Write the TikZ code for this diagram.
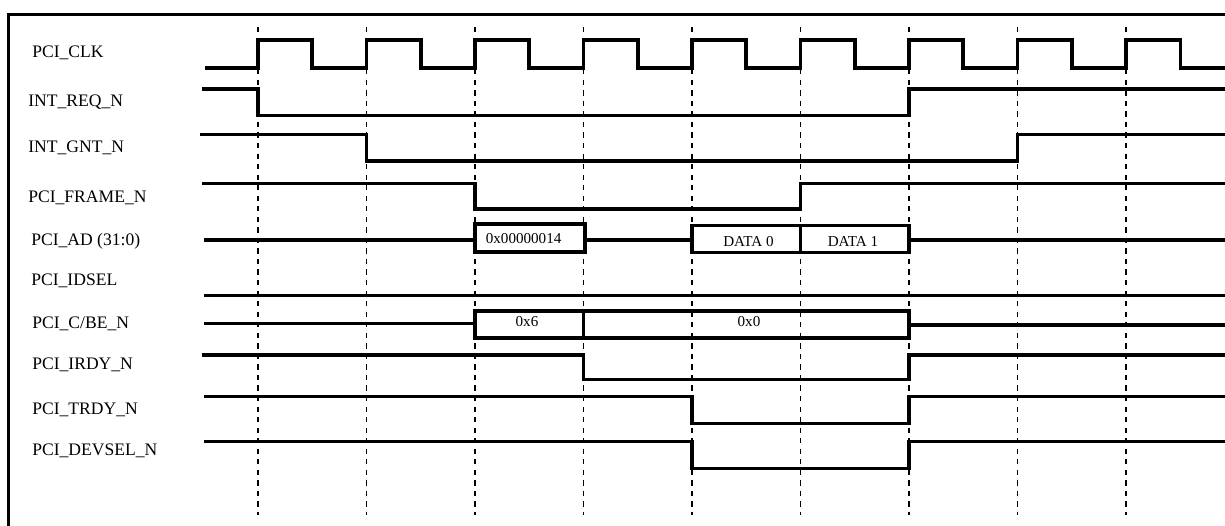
\documentclass[tikz,border=0pt]{standalone}
\usepackage{fontspec}
\setmainfont{Liberation Serif}
\usetikzlibrary{calc}

\tikzset{
  sig/.style={line width=2pt},
  clkgrid/.style={line width=0.75pt, dash pattern=on 3pt off 3pt},
  signame/.style={font=\fontsize{10}{12}\selectfont, anchor=base west, inner sep=0pt},
  busval/.style={font=\fontsize{8.6}{10}\selectfont, anchor=base, inner sep=0pt},
}

\begin{document}
\begin{tikzpicture}[x=0.02cm, y=-0.02cm]
  \clip (0,0) rectangle (1225,525);

  % frame
  \draw[line width=1.5pt] (8.5,540) -- (8.5,14.5) -- (1240,14.5);

  % clock edges
  \foreach \x in {258,366.5,475,583.5,692,800.5,909,1017.5,1126}
    \draw[clkgrid] (\x,27) -- (\x,515);

  % signal names
  \foreach \x/\y/\n/\t in {
      32/57.5/lclk/{PCI\_CLK},
      28/106/lreq/{INT\_REQ\_N},
      28/152.5/lgnt/{INT\_GNT\_N},
      28/202.5/lframe/{PCI\_FRAME\_N},
      31/245/lad/{PCI\_AD (31:0)},
      31/285.5/lidsel/{PCI\_IDSEL},
      32/328.5/lcbe/{PCI\_C/BE\_N},
      32/369.5/lirdy/{PCI\_IRDY\_N},
      32/414.5/ltrdy/{PCI\_TRDY\_N},
      32/455.5/ldevsel/{PCI\_DEVSEL\_N}
    }
    \node[signame] (\n) at (\x,\y) {\t};

  % PCI_CLK
  \draw[sig] (205,68)
    foreach \k in {0,...,8} {
      -- ({258+108.5*\k},68) -- ({258+108.5*\k},40)
      -- ({312.25+108.5*\k},40) -- ({312.25+108.5*\k},68)
    } -- (1240,68);

  % INT_REQ_N, INT_GNT_N, PCI_FRAME_N
  \draw[sig] (202,89) -- (258,89) |- (909,115.7) |- (1240,89);
  \draw[sig] (200,134.5) -- (366.5,134.5) |- (1017.5,161) |- (1240,134.5);
  \draw[sig] (202,183.3) -- (475,183.3) |- (800.5,209) |- (1240,183.3);

  % PCI_AD (31:0)
  \draw[sig] (204,240) -- (475,240);
  \draw[sig] (475,224) rectangle (585,252);
  \draw[sig] (585,240) -- (692,240);
  \draw[sig] (692,225.5) rectangle (800.5,252.5);
  \draw[sig] (800.5,225.5) rectangle (909,252.5);
  \draw[sig] (909,240) -- (1240,240);
  \node[busval, anchor=base west] (adaddr) at (485.5,243.3) {0x00000014};
  \node[busval] (addata0) at (748.5,246) {DATA 0};
  \node[busval] (addata1) at (853,246) {DATA 1};

  % PCI_IDSEL
  \draw[sig] (204,295.7) -- (1240,295.7);

  % PCI_C/BE_N
  \draw[sig] (204,323.5) -- (475,323.5);
  \draw[sig] (475,311) rectangle (583.5,338);
  \draw[sig] (583.5,311) rectangle (909,338);
  \draw[sig] (909,325) -- (1240,325);
  \node[busval] (cbecmd) at (527,326.7) {0x6};
  \node[busval] (cbebyte) at (749,326.7) {0x0};

  % PCI_IRDY_N, PCI_TRDY_N, PCI_DEVSEL_N
  \draw[sig] (202,355) -- (583.5,355) |- (909,379.5) |- (1240,355);
  \draw[sig] (204,396.7) -- (692,396.7) |- (909,423.5) |- (1240,396.7);
  \draw[sig] (204,441.7) -- (692,441.7) |- (909,468.3) |- (1240,441.7);
\end{tikzpicture}
\end{document}
